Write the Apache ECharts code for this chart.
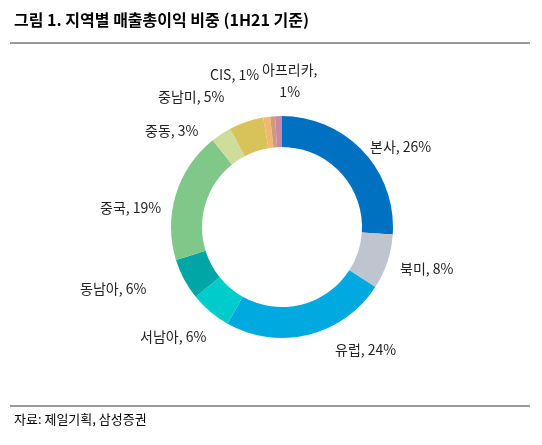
<!DOCTYPE html><html><head><meta charset="utf-8"><script src="https://cdn.jsdelivr.net/npm/echarts@6/dist/echarts.min.js"></script>
<style>body{margin:0;background:#fff}#c{width:542px;height:445px}</style></head><body><div id="c"></div><script>
const names=['본사','북미','유럽','서남아','동남아','중국','중동','중남미','CIS','기타','아프리카'];
const values=[26,8,24,6,6,19,3,5,1,0.7,1];
const labels=['본사, 26%','북미, 8%','유럽, 24%','서남아, 6%','동남아, 6%','중국, 19%','중동, 3%','중남미, 5%','CIS, 1%','','아프리카,\n1%'];
const colors=['#0070C0','#C0C4CE','#00A9E0','#00CCCC','#00A6A6','#80C78A','#CEDD9A','#D8C35A','#F0B870','#D09A7A','#C888A8'];
const labelPos=[[370,147],[400,269],[335,350],[140,337],[80,289],[100,208],[145,131],[158,97],[210,75],[0,0],[262,81]];
const c=echarts.init(document.getElementById('c'));
c.setOption({
graphic:[
{type:'text',left:14,top:12,style:{text:'그림 1. 지역별 매출총이익 비중 (1H21 기준)',font:'bold 16px "Noto Sans CJK KR"',fill:'#000'}},
{type:'line',shape:{x1:10,y1:43,x2:530,y2:43},style:{stroke:'#777',lineWidth:1.5}},
{type:'line',shape:{x1:10,y1:406,x2:530,y2:406},style:{stroke:'#777',lineWidth:1.5}},
{type:'text',left:14,top:413,style:{text:'자료: 제일기획, 삼성증권',font:'13px "Noto Sans CJK KR"',fill:'#000'}}
],
series:[{type:'pie',center:[282,227],radius:[80,111],startAngle:90,clockwise:true,
data:names.map((n,i)=>({name:n,value:values[i],itemStyle:{color:colors[i]},label:{show:labels[i]!==''}})),
label:{formatter:p=>labels[p.dataIndex],fontFamily:'Noto Sans CJK KR',fontSize:14,color:'#222',lineHeight:22,align:'center'},
labelLine:{show:false},
labelLayout:p=>{const q=labelPos[p.dataIndex];return {x:q[0]+p.labelRect.width/2,y:q[1],align:'center',verticalAlign:'middle'};},
emphasis:{disabled:true}}]
});
</script></body></html>
